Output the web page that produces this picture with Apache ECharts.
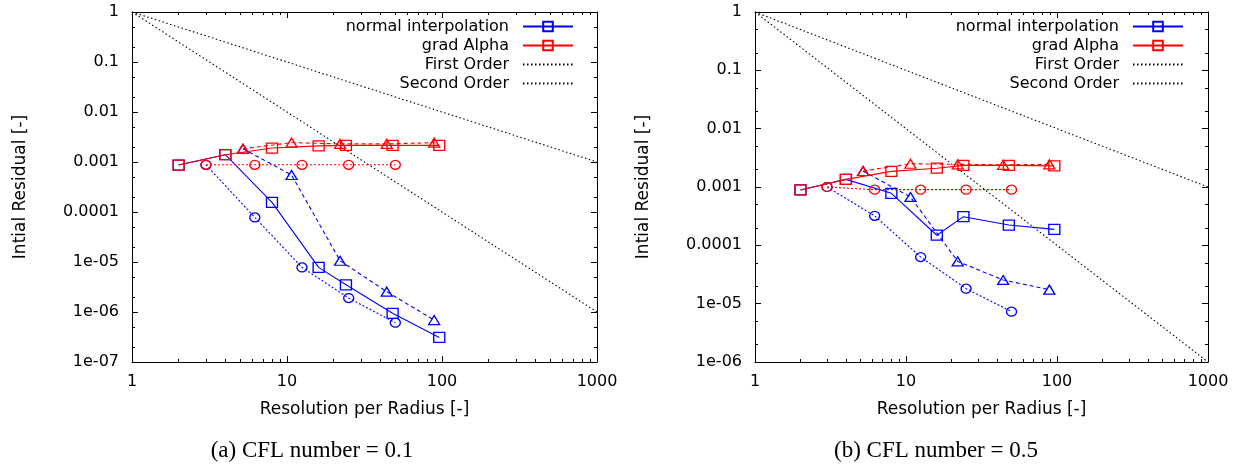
<!DOCTYPE html>
<html>
<head>
<meta charset="utf-8">
<script src="https://cdn.jsdelivr.net/npm/echarts@6/dist/echarts.min.js"></script>
<style>
html,body{margin:0;padding:0;background:#fff;}
#chart{width:1257px;height:468px;}
</style>
</head>
<body>
<div id="chart"></div>
<script>
// ---- data ----
const resSquares = [2, 4, 8, 16, 24, 48, 96];
const resTriangles = [5.2, 10.7, 22, 44, 89];
const resCircles = [3, 6.2, 12.5, 25, 50];

// (a) CFL = 0.1
const normSqA = [8.7e-4, 1.4e-3, 1.56e-4, 7.8e-6, 3.5e-6, 9.4e-7, 3.1e-7];
const gradSqA = [8.7e-4, 1.4e-3, 1.9e-3, 2.1e-3, 2.15e-3, 2.15e-3, 2.15e-3];
const normTriA = [1.84e-3, 5.5e-4, 1.06e-5, 2.55e-6, 6.9e-7];
const gradTriA = [1.84e-3, 2.44e-3, 2.3e-3, 2.3e-3, 2.44e-3];
const normCirA = [8.8e-4, 7.8e-5, 7.8e-6, 1.9e-6, 6.1e-7];
const gradCirA = [8.8e-4, 8.8e-4, 8.8e-4, 8.8e-4, 8.8e-4];

// (b) CFL = 0.5
const normSqB = [8.9e-4, 1.35e-3, 7.8e-4, 1.49e-4, 3.1e-4, 2.23e-4, 1.88e-4];
const gradSqB = [8.9e-4, 1.35e-3, 1.85e-3, 2.1e-3, 2.35e-3, 2.35e-3, 2.3e-3];
const normTriB = [1.88e-3, 6.75e-4, 5.3e-5, 2.55e-5, 1.74e-5];
const gradTriB = [1.88e-3, 2.5e-3, 2.45e-3, 2.4e-3, 2.45e-3];
const normCirB = [1.0e-3, 3.2e-4, 6.3e-5, 1.81e-5, 7.3e-6];
const gradCirB = [1.0e-3, 9.0e-4, 9.0e-4, 9.0e-4, 9.0e-4];

// reference slopes
const orderX = [1, 1000];
const firstOrderY = [1, 1e-3];
const secondOrderY = [1, 1e-6];

// ticks
const xTickValues = [1, 10, 100, 1000];
const xTickLabels = ['1', '10', '100', '1000'];
const yTickValuesA = [1e-7, 1e-6, 1e-5, 1e-4, 1e-3, 1e-2, 1e-1, 1];
const yTickLabelsA = ['1e-07', '1e-06', '1e-05', '0.0001', '0.001', '0.01', '0.1', '1'];
const yTickValuesB = [1e-6, 1e-5, 1e-4, 1e-3, 1e-2, 1e-1, 1];
const yTickLabelsB = ['1e-06', '1e-05', '0.0001', '0.001', '0.01', '0.1', '1'];

const legendNames = ['normal interpolation', 'grad Alpha', 'First Order', 'Second Order'];
const captions = ['(a) CFL number = 0.1', '(b) CFL number = 0.5'];
const xTitle = 'Resolution per Radius [-]';
const yTitle = 'Intial Residual [-]';

// ---- helpers ----
function minorValues(lo, hi, mults) {
  const out = [];
  for (let d = lo; d < hi; d *= 10) {
    mults.forEach(m => { const v = d * m; if (v < hi) out.push(v); });
  }
  return out;
}
function zip(xs, ys) { return xs.map((x, i) => [x, ys[i]]); }
function labelFor(vals, labels) {
  return function (v) {
    let best = 0, bd = Infinity;
    vals.forEach((t, i) => { const d = Math.abs(Math.log10(t) - Math.log10(v)); if (d < bd) { bd = d; best = i; } });
    return labels[best];
  };
}

const BLUE = '#0000ff', RED = '#ff0000', BLACK = '#000000';
const FONT = 'DejaVu Sans';

const grids = [
  { left: 132, top: 12, width: 465, height: 350 },
  { left: 755, top: 12, width: 453, height: 350 }
];
const yRanges = [[1e-7, 1], [1e-6, 1]];
const yTicks = [[yTickValuesA, yTickLabelsA], [yTickValuesB, yTickLabelsB]];

const xAxes = [], yAxes = [], series = [];

grids.forEach((g, gi) => {
  const xMinor = minorValues(1, 1000, [2, 3, 4, 5, 6, 7, 8, 9]);
  const [ymin, ymax] = yRanges[gi];
  const yMinor = minorValues(ymin, ymax, [2, 5]);
  const lineCommon = { show: true, onZero: false, lineStyle: { color: BLACK, width: 1 } };
  const base = { gridIndex: gi, type: 'log', logBase: 10, splitLine: { show: false }, minorTick: { show: false } };
  // x axes
  xAxes.push(Object.assign({}, base, {
    min: 1, max: 1000, position: 'bottom',
    axisLine: lineCommon,
    axisTick: { show: true, inside: true, length: 6, customValues: xTickValues, lineStyle: { color: BLACK } },
    axisLabel: { show: true, customValues: xTickValues, formatter: labelFor(xTickValues, xTickLabels), color: BLACK, fontFamily: FONT, fontSize: 16, margin: 12 },
    name: xTitle, nameLocation: 'middle', nameGap: 39,
    nameTextStyle: { color: BLACK, fontFamily: FONT, fontSize: 17 }
  }));
  xAxes.push(Object.assign({}, base, {
    min: 1, max: 1000, position: 'bottom', axisLine: { show: false },
    axisTick: { show: true, inside: true, length: 3, customValues: xMinor, lineStyle: { color: BLACK } },
    axisLabel: { show: false }
  }));
  xAxes.push(Object.assign({}, base, {
    min: 1, max: 1000, position: 'top', axisLine: lineCommon,
    axisTick: { show: true, inside: true, length: 6, customValues: xTickValues, lineStyle: { color: BLACK } },
    axisLabel: { show: false }
  }));
  xAxes.push(Object.assign({}, base, {
    min: 1, max: 1000, position: 'top', axisLine: { show: false },
    axisTick: { show: true, inside: true, length: 3, customValues: xMinor, lineStyle: { color: BLACK } },
    axisLabel: { show: false }
  }));
  const [yv, yl] = yTicks[gi];
  yAxes.push(Object.assign({}, base, {
    min: ymin, max: ymax, position: 'left', axisLine: lineCommon,
    axisTick: { show: true, inside: true, length: 6, customValues: yv, lineStyle: { color: BLACK } },
    axisLabel: { show: true, customValues: yv, formatter: labelFor(yv, yl), color: BLACK, fontFamily: FONT, fontSize: 16, margin: 13 },
    name: yTitle, nameLocation: 'middle', nameGap: 103, nameRotate: 90,
    nameTextStyle: { color: BLACK, fontFamily: FONT, fontSize: 17 }
  }));
  yAxes.push(Object.assign({}, base, {
    min: ymin, max: ymax, position: 'left', axisLine: { show: false },
    axisTick: { show: true, inside: true, length: 3, customValues: yMinor, lineStyle: { color: BLACK } },
    axisLabel: { show: false }
  }));
  yAxes.push(Object.assign({}, base, {
    min: ymin, max: ymax, position: 'right', axisLine: lineCommon,
    axisTick: { show: true, inside: true, length: 6, customValues: yv, lineStyle: { color: BLACK } },
    axisLabel: { show: false }
  }));
  yAxes.push(Object.assign({}, base, {
    min: ymin, max: ymax, position: 'right', axisLine: { show: false },
    axisTick: { show: true, inside: true, length: 3, customValues: yMinor, lineStyle: { color: BLACK } },
    axisLabel: { show: false }
  }));
});

function mk(gi, name, xs, ys, color, symbol, size, lineType) {
  return {
    type: 'line', name: name, xAxisIndex: gi * 4, yAxisIndex: gi * 4,
    data: zip(xs, ys), symbol: symbol, symbolSize: size, showSymbol: symbol !== 'none',
    lineStyle: { color: color, width: 1.1, type: lineType },
    itemStyle: { color: 'rgba(255,255,255,0)', borderColor: color, borderWidth: 1.3 },
    emphasis: { disabled: true }, animation: false, z: color === RED ? 3 : 2
  };
}

const sets = [
  [normSqA, gradSqA, normTriA, gradTriA, normCirA, gradCirA],
  [normSqB, gradSqB, normTriB, gradTriB, normCirB, gradCirB]
];
sets.forEach((s, gi) => {
  series.push(mk(gi, 'First Order', orderX, firstOrderY, BLACK, 'none', 0, [1.5, 2.5]));
  series.push(mk(gi, 'Second Order', orderX, secondOrderY, BLACK, 'none', 0, [1.5, 2.5]));
  series.push(mk(gi, 'normal interpolation', resSquares, s[0], BLUE, 'rect', [11, 10], 'solid'));
  series.push(mk(gi, 'normal interpolation (dashed)', resTriangles, s[2], BLUE, 'triangle', [11, 9], [4, 3]));
  series.push(mk(gi, 'normal interpolation (dotted)', resCircles, s[4], BLUE, 'circle', [10, 9], [2, 2]));
  series.push(mk(gi, 'grad Alpha', resSquares, s[1], RED, 'rect', [11, 10], 'solid'));
  series.push(mk(gi, 'grad Alpha (dashed)', resTriangles, s[3], RED, 'triangle', [11, 9], [4, 3]));
  series.push(mk(gi, 'grad Alpha (dotted)', resCircles, s[5], RED, 'circle', [10, 9], [2, 2]));
});

const hiddenSymbol = { color: 'rgba(0,0,0,0)', borderColor: 'rgba(0,0,0,0)', borderWidth: 0 };
const legendData = legendNames.map((n, i) => i < 2 ? { name: n } : { name: n, itemStyle: hiddenSymbol });
const legendRights = [1257 - 574, 1257 - 1184];
const legends = legendRights.map(r => ({
  data: legendData, orient: 'vertical', align: 'right', right: r, top: 17,
  padding: 0, itemWidth: 50, itemHeight: 12, itemGap: 0, selectedMode: false,
  textStyle: { color: BLACK, fontFamily: FONT, fontSize: 16, lineHeight: 19, padding: [0, 9, 0, 0] }
}));

const titles = [
  { text: captions[0], left: 312, top: 439, textAlign: 'center' },
  { text: captions[1], left: 936, top: 439, textAlign: 'center' }
].map(t => Object.assign(t, { padding: 0, textStyle: { color: BLACK, fontFamily: 'Liberation Serif', fontSize: 23, fontWeight: 'normal' } }));

const chart = echarts.init(document.getElementById('chart'), null, { renderer: 'canvas' });
chart.setOption({
  animation: false,
  backgroundColor: '#fff',
  title: titles,
  legend: legends,
  grid: grids,
  xAxis: xAxes,
  yAxis: yAxes,
  series: series
});
</script>
</body>
</html>
